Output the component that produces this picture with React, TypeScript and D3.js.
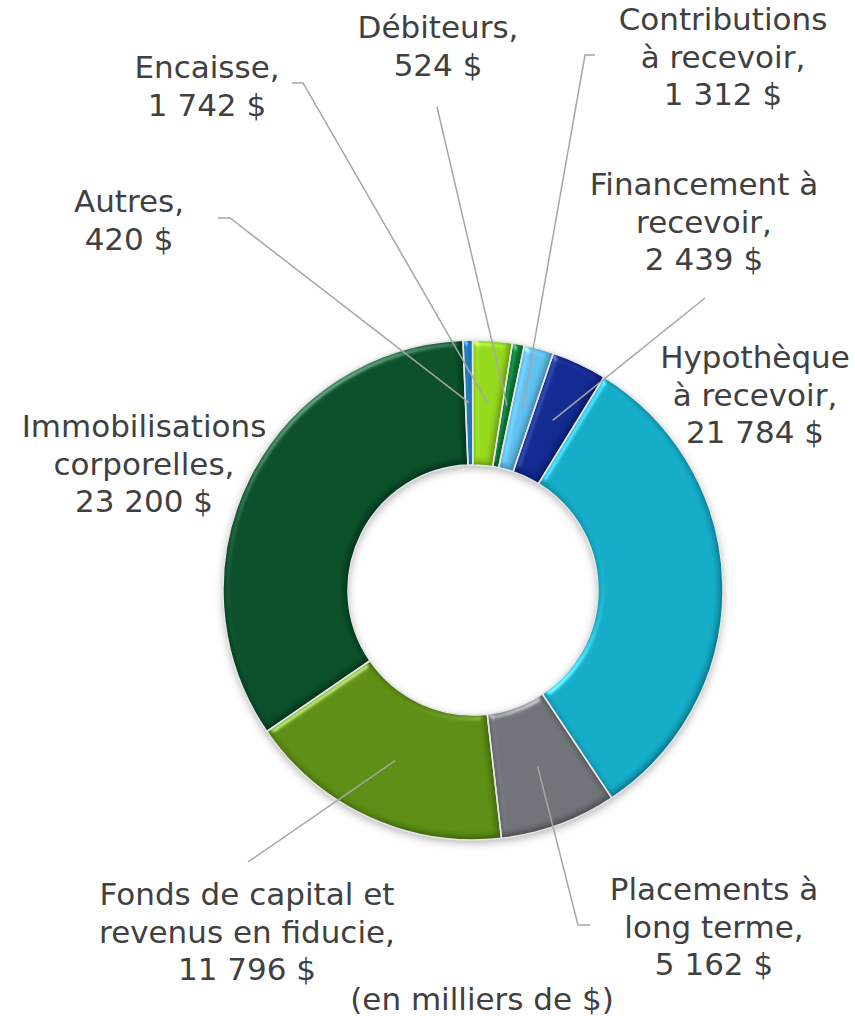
import { useMemo } from "react";
import * as d3 from "d3";

const WIDTH = 855;
const HEIGHT = 1016;
const CENTER = { x: 473, y: 590 };
const OUTER_R = 250;
const INNER_R = 125;
const START_DEG = -2.3;
const FONT_SIZE = 31;
const LINE_H = 37.5;
const TEXT_COLOR = "#404040";
const LEADER_COLOR = "#a6a6a6";

// data, clockwise from the top
const categories = [
  "Autres",
  "Encaisse",
  "Débiteurs",
  "Contributions à recevoir",
  "Financement à recevoir",
  "Hypothèque à recevoir",
  "Placements à long terme",
  "Fonds de capital et revenus en fiducie",
  "Immobilisations corporelles",
];
const values = [420, 1742, 524, 1312, 2439, 21784, 5162, 11796, 23200];

const labelLines = [
  ["Autres,"],
  ["Encaisse,"],
  ["Débiteurs,"],
  ["Contributions", "à recevoir,"],
  ["Financement à", "recevoir,"],
  ["Hypothèque", "à recevoir,"],
  ["Placements à", "long terme,"],
  ["Fonds de capital et", "revenus en fiducie,"],
  ["Immobilisations", "corporelles,"],
];

const colors = [
  "#1b7dc6", // Autres
  "#92d41a", // Encaisse
  "#0a8238", // Débiteurs
  "#5cbdec", // Contributions
  "#0f278c", // Financement
  "#12a8c4", // Hypothèque
  "#6c6f75", // Placements
  "#5a8a12", // Fonds
  "#074b27", // Immobilisations
];

// layout: label block centre x / first baseline, leader line start points
const labelPos: [number, number][] = [
  [129, 212],
  [207, 78],
  [438, 38],
  [723, 30],
  [704, 195],
  [755, 368],
  [714, 900],
  [247, 905],
  [144, 437],
];
const leaderStarts: ([number, number][] | null)[] = [
  [[218, 218], [230, 218]],
  [[292, 83], [303, 83]],
  [[437, 107]],
  [[595, 55], [585, 55]],
  [[705, 298]],
  null,
  [[590, 925], [578, 925]],
  [[248, 862]],
  null,
];

const fr = d3.formatLocale({
  decimal: ",",
  thousands: " ",
  grouping: [3],
  currency: ["", " $"],
});
const fmt = fr.format(",d");

export default function App() {
  const slices = useMemo(() => {
    const off = (START_DEG * Math.PI) / 180;
    return d3
      .pie<number>()
      .value((d) => d)
      .sort(null)
      .startAngle(off)
      .endAngle(off + 2 * Math.PI)(values);
  }, []);

  const arc = d3
    .arc<d3.PieArcDatum<number>>()
    .innerRadius(INNER_R)
    .outerRadius(OUTER_R);

  const line = d3.line();

  return (
    <svg
      width={WIDTH}
      height={HEIGHT}
      style={{ position: "absolute", left: 0, top: 0, background: "#fff" }}
    >
      <defs>
        <filter id="shadow" x="-20%" y="-20%" width="140%" height="140%" colorInterpolationFilters="sRGB">
          <feDropShadow dx="0" dy="3" stdDeviation="4" floodColor="#000" floodOpacity="0.3" />
        </filter>
        <filter id="bevel" x="-10%" y="-10%" width="120%" height="120%" colorInterpolationFilters="sRGB">
          <feGaussianBlur in="SourceAlpha" stdDeviation="3" result="blur" />
          <feSpecularLighting
            in="blur"
            surfaceScale="3"
            specularConstant="0.7"
            specularExponent="30"
            lightingColor="#ffffff"
            result="spec"
          >
            <feDistantLight azimuth="235" elevation="40" />
          </feSpecularLighting>
          <feComposite in="spec" in2="SourceAlpha" operator="in" result="specIn" />
          <feComponentTransfer in="SourceAlpha" result="inv">
            <feFuncA type="table" tableValues="1 0" />
          </feComponentTransfer>
          <feGaussianBlur in="inv" stdDeviation="3" result="invBlur" />
          <feOffset in="invBlur" dx="-2" dy="-2" result="invOff" />
          <feFlood floodColor="#000" floodOpacity="0.4" />
          <feComposite in2="invOff" operator="in" result="sh" />
          <feComposite in="sh" in2="SourceAlpha" operator="in" result="inner" />
          <feMerge result="base">
            <feMergeNode in="SourceGraphic" />
            <feMergeNode in="inner" />
          </feMerge>
          <feComposite in="base" in2="specIn" operator="arithmetic" k1="0" k2="1" k3="0.5" k4="0" />
        </filter>
      </defs>

      <g transform={`translate(${CENTER.x},${CENTER.y})`}>
        <g filter="url(#shadow)">
          {slices.map((s, i) => (
            <path key={categories[i]} d={arc(s) ?? ""} fill={colors[i]} />
          ))}
        </g>
        {slices.map((s, i) => (
          <path
            key={categories[i] + "-b"}
            d={arc(s) ?? ""}
            fill={colors[i]}
            filter="url(#bevel)"
          />
        ))}
        {slices.map((s, i) => (
          <path
            key={categories[i] + "-s"}
            d={arc(s) ?? ""}
            fill="none"
            stroke="#e6e6e6"
            strokeWidth={1.5}
          />
        ))}
      </g>

      {slices.map((s, i) => {
        const starts = leaderStarts[i];
        if (!starts) return null;
        const c = arc.centroid(s);
        const pts: [number, number][] = [
          ...starts,
          [CENTER.x + c[0], CENTER.y + c[1]],
        ];
        return (
          <path
            key={categories[i] + "-l"}
            d={line(pts) ?? ""}
            fill="none"
            stroke={LEADER_COLOR}
            strokeWidth={1.5}
          />
        );
      })}

      <g fontFamily="'DejaVu Sans', Verdana, sans-serif" fontSize={FONT_SIZE} fill={TEXT_COLOR} textAnchor="middle">
        {categories.map((c, i) => {
          const lines = [...labelLines[i], `${fmt(values[i])} $`];
          const [x, y] = labelPos[i];
          return (
            <text key={c + "-t"} x={x} y={y}>
              {lines.map((t, j) => (
                <tspan key={j} x={x} y={y + j * LINE_H}>
                  {t}
                </tspan>
              ))}
            </text>
          );
        })}
        <text x={482} y={1010}>(en milliers de $)</text>
      </g>
    </svg>
  );
}
